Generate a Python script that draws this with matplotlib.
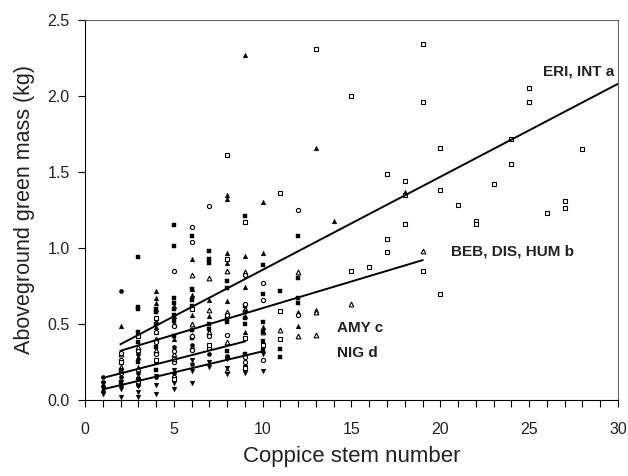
import matplotlib
matplotlib.use("Agg")
import matplotlib.pyplot as plt
from matplotlib.ticker import MultipleLocator, FormatStrFormatter

plt.rcParams["font.family"] = ["Liberation Sans", "DejaVu Sans"]

# stem number / green mass per marker group
tri_up_x = [2, 3, 3, 4, 4, 4, 4, 4, 4, 4, 5, 5, 5, 6, 6, 6, 6, 6, 7, 7, 7,
            8, 8, 8, 8, 8, 8, 9, 9, 9, 9, 9, 10, 10, 10, 12, 12, 13, 13, 14, 18]
tri_up_y = [0.49, 0.28, 0.22, 0.72, 0.67, 0.64, 0.60, 0.52, 0.48, 0.45, 0.62, 0.55, 0.40,
            0.93, 0.73, 0.69, 0.56, 0.43, 0.66, 0.55, 0.45,
            1.35, 1.32, 0.965, 0.90, 0.65, 0.55, 2.27, 0.95, 0.745, 0.55, 0.45,
            1.30, 0.965, 0.48, 0.58, 0.49, 1.66, 0.59, 1.18, 1.37]

tri_open_x = [2, 2, 3, 3, 4, 4, 5, 5, 6, 6, 6, 7, 7, 7, 8, 8, 8, 8, 9, 9, 9,
              10, 11, 12, 12, 13, 13, 15, 19]
tri_open_y = [0.30, 0.22, 0.35, 0.15, 0.40, 0.33, 0.50, 0.30, 0.82, 0.50, 0.35,
              0.80, 0.59, 0.45, 0.85, 0.58, 0.38, 0.20, 0.84, 0.60, 0.22,
              0.45, 0.46, 0.84, 0.42, 0.43, 0.58, 0.63, 0.98]

sq_x = [2, 2, 3, 3, 3, 3, 3, 3, 4, 4, 4, 4, 4, 5, 5, 5, 5, 5, 5, 5, 5,
        6, 6, 6, 6, 6, 6, 7, 7, 7, 7, 7, 8, 8, 8, 8, 8, 9, 9, 9, 9, 9, 9,
        10, 10, 10, 10, 10, 10, 11, 11, 11, 12, 12, 12, 12]
sq_y = [0.12, 0.20, 0.94, 0.61, 0.60, 0.45, 0.38, 0.25, 0.60, 0.58, 0.50, 0.35, 0.20,
        1.15, 1.01, 0.67, 0.64, 0.60, 0.56, 0.52, 0.42,
        1.08, 0.73, 0.66, 0.62, 0.46, 0.41, 0.98, 0.925, 0.90, 0.50, 0.47,
        0.78, 0.74, 0.53, 0.51, 0.32, 1.21, 0.62, 0.58, 0.54, 0.50, 0.30,
        0.89, 0.70, 0.51, 0.45, 0.39, 0.33, 0.72, 0.335, 0.285, 1.08, 0.80, 0.67, 0.64]

circ_open_x = [2, 2, 2, 3, 3, 3, 4, 4, 4, 5, 5, 5, 5, 5, 6, 6, 6, 6, 7, 7, 7,
               8, 8, 8, 9, 9, 9, 9, 10, 10, 10, 12, 12]
circ_open_y = [0.31, 0.26, 0.18, 0.32, 0.20, 0.12, 0.45, 0.38, 0.30,
               0.85, 0.49, 0.32, 0.25, 0.15, 1.136, 1.04, 0.42, 0.33, 1.276, 0.42, 0.34,
               0.56, 0.43, 0.28, 0.82, 0.63, 0.28, 0.25, 0.77, 0.66, 0.26, 1.25, 0.56]

circ_x = [1, 1, 1, 1, 2, 2, 2, 3, 3, 3, 4, 4, 5, 5, 6, 6, 7, 8]
circ_y = [0.15, 0.12, 0.09, 0.06, 0.72, 0.15, 0.10, 0.30, 0.18, 0.10,
          0.25, 0.15, 0.35, 0.18, 0.36, 0.24, 0.30, 0.29]

tri_down_x = [1, 1, 1, 2, 2, 2, 3, 3, 3, 3, 4, 4, 4, 5, 5, 5, 6, 6, 6,
              7, 7, 8, 8, 8, 9, 9, 10, 10]
tri_down_y = [0.04, 0.08, 0.11, 0.02, 0.07, 0.12, 0.02, 0.05, 0.09, 0.14,
              0.04, 0.10, 0.16, 0.07, 0.11, 0.20, 0.11, 0.19, 0.26,
              0.22, 0.25, 0.17, 0.21, 0.27, 0.18, 0.22, 0.19, 0.30]

sq_open_x = [2, 3, 4, 4, 5, 5, 6, 7, 8, 8, 9, 9, 9, 10, 11, 11, 11, 13,
             15, 15, 16, 17, 17, 17, 18, 18, 18, 19, 19, 19, 20, 20, 20,
             21, 22, 22, 23, 24, 24, 25, 25, 26, 27, 27, 28]
sq_open_y = [0.25, 0.42, 0.26, 0.54, 0.14, 0.27, 0.60, 0.36, 1.61, 0.93,
             1.17, 0.41, 0.21, 0.36, 1.36, 0.585, 0.40, 2.31,
             2.00, 0.85, 0.877, 1.49, 1.06, 0.976, 1.44, 1.35, 1.16,
             2.34, 1.96, 0.85, 1.66, 1.38, 0.695,
             1.28, 1.18, 1.16, 1.42, 1.72, 1.55, 2.05, 1.96, 1.23, 1.31, 1.26, 1.65]

# regression lines: (x start, x end), (y start, y end)
fit_names = ["ERI, INT a", "BEB, DIS, HUM b", "AMY c", "NIG d"]
fit_x = [(2, 30), (2, 19), (1, 9), (1, 10)]
fit_y = [(0.367, 2.08), (0.324, 0.92), (0.145, 0.385), (0.07, 0.32)]
label_pos = [(25.8, 2.16), (20.6, 0.976), (14.2, 0.476), (14.2, 0.31)]

fig = plt.figure(figsize=(6.28, 4.76), dpi=100)
ax = fig.add_axes([0.1354, 0.1597, 0.8486, 0.7983])

ms = 3.4
mew = 0.8
ax.plot(tri_up_x, tri_up_y, "^", ms=ms, color="black", mew=0.3, ls="none")
ax.plot(tri_open_x, tri_open_y, "^", ms=ms, mfc="white", mec="black", mew=mew, ls="none")
ax.plot(sq_x, sq_y, "s", ms=ms, color="black", mew=0.3, ls="none")
ax.plot(circ_open_x, circ_open_y, "o", ms=3.0, mfc="white", mec="black", mew=mew, ls="none")
ax.plot(circ_x, circ_y, "o", ms=3.0, color="black", mew=0.3, ls="none")
ax.plot(tri_down_x, tri_down_y, "v", ms=ms, color="black", mew=0.3, ls="none")
ax.plot(sq_open_x, sq_open_y, "s", ms=ms, mfc="white", mec="black", mew=mew, ls="none")

for name, xs, ys, pos in zip(fit_names, fit_x, fit_y, label_pos):
    ax.plot(xs, ys, color="black", lw=1.4)
    ax.text(pos[0], pos[1], name, fontsize=11, fontweight="bold",
            color="#222222", ha="left", va="center")

ax.set_xlim(0, 30)
ax.set_ylim(0, 2.5)
ax.xaxis.set_major_locator(MultipleLocator(5))
ax.xaxis.set_minor_locator(MultipleLocator(1))
ax.yaxis.set_major_locator(MultipleLocator(0.5))
ax.yaxis.set_major_formatter(FormatStrFormatter("%.1f"))
ax.tick_params(which="both", direction="out", length=5, width=0.8,
               labelsize=11.5, colors="black", labelcolor="#222222")
ax.tick_params(axis="x", pad=11)
ax.tick_params(axis="y", pad=6)
for side in ("top", "right"):
    ax.spines[side].set_color("#666666")
for side in ("left", "bottom"):
    ax.spines[side].set_color("black")

ax.set_xlabel("Coppice stem number", fontsize=16, color="#222222", labelpad=6)
ax.set_ylabel("Aboveground green mass (kg)", fontsize=15.5, color="#222222", labelpad=9)

fig.savefig("out.png", dpi=100)
